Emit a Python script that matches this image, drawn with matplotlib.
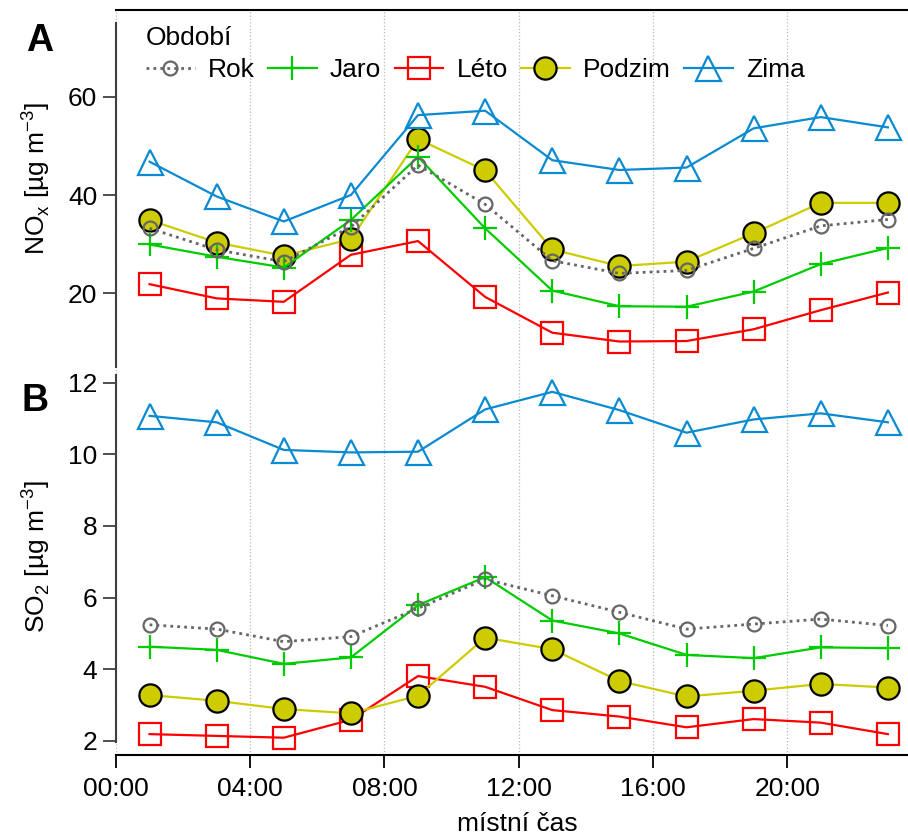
import matplotlib.pyplot as plt

plt.rcParams['font.family'] = ['Liberation Sans', 'DejaVu Sans']
plt.rcParams['mathtext.fontset'] = 'custom'
plt.rcParams['mathtext.rm'] = 'Liberation Sans'

# hourly means, two-hour bins centred on odd hours
hours = [1, 3, 5, 7, 9, 11, 13, 15, 17, 19, 21, 23]

nox_rok = [33.2, 28.8, 26.4, 33.5, 46.1, 38.1, 26.6, 24.0, 24.6, 29.1, 33.7, 35.0]
nox_jaro = [29.9, 27.4, 25.2, 34.9, 47.8, 33.2, 20.5, 17.3, 17.2, 20.3, 25.9, 29.2]
nox_leto = [21.8, 18.9, 18.2, 27.8, 30.6, 19.2, 11.9, 10.1, 10.2, 12.6, 16.5, 20.1]
nox_podzim = [34.9, 30.3, 27.6, 31.0, 51.4, 45.0, 28.9, 25.5, 26.4, 32.2, 38.4, 38.4]
nox_zima = [46.8, 39.7, 34.6, 40.0, 56.3, 57.2, 47.1, 45.1, 45.6, 53.6, 55.9, 53.8]

so2_rok = [5.24, 5.12, 4.77, 4.91, 5.70, 6.51, 6.05, 5.59, 5.12, 5.26, 5.40, 5.22]
so2_jaro = [4.63, 4.54, 4.15, 4.33, 5.79, 6.57, 5.36, 5.00, 4.40, 4.31, 4.61, 4.59]
so2_leto = [2.19, 2.14, 2.09, 2.59, 3.81, 3.51, 2.86, 2.68, 2.38, 2.61, 2.51, 2.19]
so2_podzim = [3.28, 3.12, 2.89, 2.77, 3.26, 4.88, 4.56, 3.67, 3.24, 3.40, 3.59, 3.49]
so2_zima = [11.07, 10.89, 10.12, 10.05, 10.07, 11.25, 11.74, 11.23, 10.60, 10.97, 11.14, 10.89]

labels = ['Rok', 'Jaro', 'Léto', 'Podzim', 'Zima']
xticks = [0, 4, 8, 12, 16, 20]
xticklabels = ['00:00', '04:00', '08:00', '12:00', '16:00', '20:00']

FS = 19

styles = {
    'Rok': dict(color='#666666', ls=(0, (1, 1.5)), lw=2, marker='o', ms=10,
                mfc='none', mec='#666666', mew=1.6, zorder=6),
    'Jaro': dict(color='#00cc00', lw=1.6, marker='+', ms=17, mew=1.6, zorder=5),
    'Léto': dict(color='#ff0000', lw=1.6, marker='s', ms=16, mfc='none',
                 mec='#ff0000', mew=1.6, zorder=3),
    'Podzim': dict(color='#cccc00', lw=1.6, marker='o', ms=16, mfc='#cccc00',
                   mec='black', mew=1.6, zorder=4),
    'Zima': dict(color='#0a8ad0', lw=1.6, marker='^', ms=18, mfc='none',
                 mec='#0a8ad0', mew=1.6, zorder=7),
}

W, H = 908, 838
fig = plt.figure(figsize=(W / 100, H / 100), dpi=100)


def box(x0, y0, x1, y1):
    return [x0 / W, 1 - y1 / H, (x1 - x0) / W, (y1 - y0) / H]


xmax = 23.6

# frame with time axis and vertical grid shared by both panels
axg = fig.add_axes(box(116, 10, 908, 755))
axg.set_xlim(0, xmax)
axg.set_ylim(0, 1)
axg.set_yticks([])
for s in ['left', 'right']:
    axg.spines[s].set_visible(False)
axg.spines['top'].set_linewidth(1.5)
axg.spines['bottom'].set_linewidth(1.5)
axg.set_xticks(xticks)
axg.set_xticklabels(xticklabels, fontsize=FS)
axg.tick_params(axis='x', length=9.5, width=1.3, pad=6)
axg.xaxis.grid(True, color='#b8b8b8', ls=':', lw=0.9)


def panel(rect, ylim, yticks, series):
    ax = fig.add_axes(rect)
    ax.patch.set_visible(False)
    ax.set_xlim(0, xmax)
    ax.set_ylim(*ylim)
    ax.set_xticks([])
    ax.set_yticks(yticks)
    ax.tick_params(axis='y', length=9.5, width=1.3, labelsize=FS, pad=4,
                   color='#404040')
    for s in ['top', 'right', 'bottom']:
        ax.spines[s].set_visible(False)
    ax.spines['left'].set_linewidth(1.5)
    ax.spines['left'].set_color('#404040')
    lines = []
    for name, vals in zip(labels, series):
        ln, = ax.plot(hours, vals, label=name, clip_on=False, **styles[name])
        lines.append(ln)
    return ax, lines


ax1, handles = panel(box(116, 23, 908, 367), (4.9, 75.1), [20, 40, 60],
                     [nox_rok, nox_jaro, nox_leto, nox_podzim, nox_zima])
ax2, _ = panel(box(116, 375, 908, 742), (1.97, 12.21), [2, 4, 6, 8, 10, 12],
               [so2_rok, so2_jaro, so2_leto, so2_podzim, so2_zima])

fig.text(36 / W, 1 - 178 / H, r'NO$_\mathregular{x}$ [µg m$^\mathregular{-3}$]',
         rotation=90, ha='center', va='center', fontsize=FS)
fig.text(36 / W, 1 - 557 / H, r'SO$_\mathregular{2}$ [µg m$^\mathregular{-3}$]',
         rotation=90, ha='center', va='center', fontsize=FS)
fig.text(40 / W, 1 - 41 / H, 'A', ha='center', va='center', fontsize=27,
         fontweight='bold')
fig.text(35 / W, 1 - 401 / H, 'B', ha='center', va='center', fontsize=27,
         fontweight='bold')
fig.text(517 / W, 1 - 824 / H, 'místní čas', ha='center', va='center', fontsize=FS)

fig.legend(handles, labels, loc='upper left', bbox_to_anchor=(146 / W, 1 - 26 / H),
           ncol=5, frameon=False, fontsize=FS, title='Období', title_fontsize=FS,
           handlelength=1.85, handletextpad=0.5, columnspacing=0.5,
           borderpad=0, borderaxespad=0, alignment='left', labelspacing=0.3)

fig.savefig('out.png', dpi=100)
